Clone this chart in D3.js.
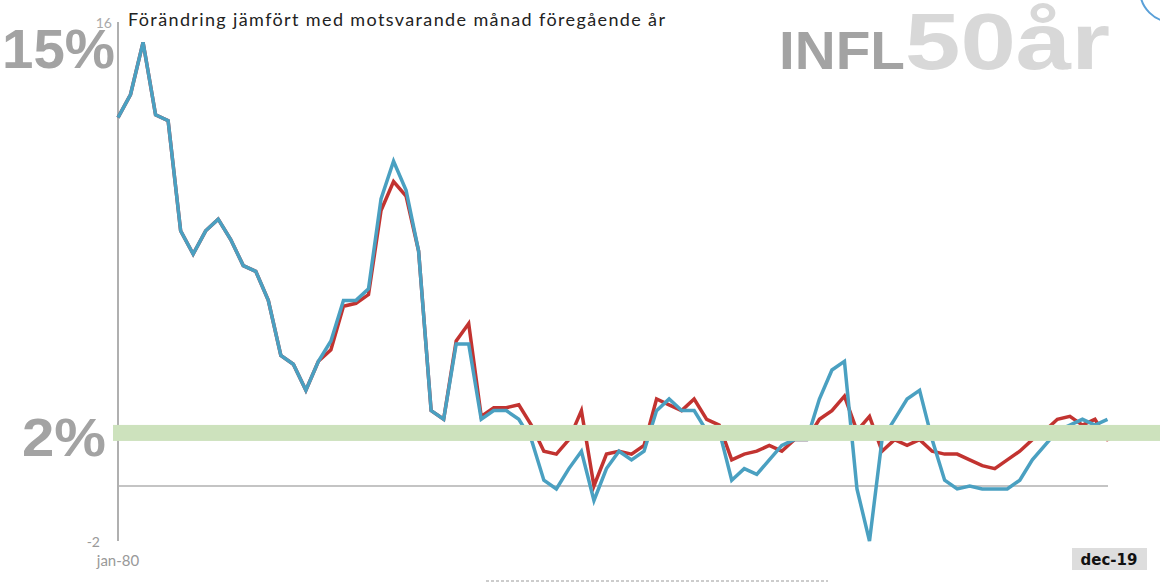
<!DOCTYPE html>
<html><head><meta charset="utf-8">
<script src="https://cdn.jsdelivr.net/npm/d3@7"></script>
<style>body{margin:0;background:#fff}</style>
</head><body>
<svg id="chart" width="1160" height="584"></svg>
<script>
// half-year points, jan-80 .. dec-19
var years = [];
for (var i = 0; i <= 80; i++) years.push(1980 + i * 0.5);

var blue = [12.7,13.5,15.3,12.8,12.6,8.8,8.0,8.8,9.2,8.5,7.6,7.4,6.4,4.5,4.2,3.3,4.3,5.0,6.4,6.4,
  6.8,9.9,11.2,10.2,8.1,2.6,2.3,4.9,4.9,2.3,2.6,2.6,2.3,1.6,0.2,-0.1,0.6,1.2,-0.5,0.6,
  1.2,0.9,1.2,2.6,3.0,2.6,2.6,1.9,1.9,0.2,0.6,0.4,0.9,1.4,1.6,1.6,3.0,4.0,4.3,-0.1,
  -1.9,1.6,2.3,3.0,3.3,1.6,0.2,-0.1,0.0,-0.1,-0.1,-0.1,0.2,0.9,1.4,1.9,2.1,2.3,2.1,2.3,null];
var red = [12.7,13.5,15.3,12.8,12.6,8.8,8.0,8.8,9.2,8.5,7.6,7.4,6.4,4.5,4.2,3.3,4.3,4.7,6.2,6.3,
  6.6,9.5,10.5,10.0,8.1,2.6,2.3,5.0,5.6,2.4,2.7,2.7,2.8,2.1,1.2,1.1,1.6,2.6,0.0,1.1,
  1.2,1.1,1.4,3.0,2.8,2.6,3.0,2.3,2.1,0.9,1.1,1.2,1.4,1.2,1.6,1.6,2.3,2.6,3.1,1.9,
  2.4,1.2,1.6,1.4,1.6,1.2,1.1,1.1,0.9,0.7,0.6,0.9,1.2,1.6,1.9,2.3,2.4,2.1,2.3,1.6,1.8];
var target = 1.83;

var svg = d3.select("#chart");
var x = d3.scaleLinear().domain([1980, 2020]).range([118, 1120]);
var y = d3.scaleLinear().domain([-2, 16]).range([544, 22]);

svg.append("line").attr("x1", 118).attr("x2", 118).attr("y1", 22).attr("y2", 541)
  .attr("stroke", "#b0b0b0").attr("stroke-width", 2);
svg.append("line").attr("x1", 118).attr("x2", 1108).attr("y1", y(0)).attr("y2", y(0))
  .attr("stroke", "#b0b0b0").attr("stroke-width", 1.5);

svg.append("text").attr("x", 128).attr("y", 26).attr("font-family", "Lato, sans-serif")
  .attr("font-size", 18).attr("textLength", 537).attr("fill", "#222").text("Förändring jämfört med motsvarande månad föregående år");
svg.append("text").attr("x", 112).attr("y", 28).attr("text-anchor", "end").attr("font-family", "Lato, sans-serif")
  .attr("font-size", 14).attr("fill", "#aaa").text("16");
svg.append("text").attr("x", 100).attr("y", 547).attr("text-anchor", "end").attr("font-family", "Lato, sans-serif")
  .attr("font-size", 14).attr("fill", "#999").text("-2");
svg.append("text").attr("x", 118).attr("y", 566).attr("text-anchor", "middle").attr("font-family", "Lato, sans-serif")
  .attr("font-size", 15).attr("fill", "#999").text("jan-80");

var line = d3.line().defined(function (d) { return d != null; })
  .x(function (d, i) { return x(years[i]); }).y(function (d) { return y(d); });
svg.append("path").datum(red).attr("d", line).attr("fill", "none")
  .attr("stroke", "#c23330").attr("stroke-width", 3.5);
svg.append("path").datum(blue).attr("d", line).attr("fill", "none")
  .attr("stroke", "#4aa0c1").attr("stroke-width", 3.5);

svg.append("rect").attr("x", 113).attr("width", 1047).attr("y", y(target) - 8).attr("height", 16)
  .attr("fill", "#cde2bd");

svg.append("rect").attr("x", 1072).attr("y", 548).attr("width", 75).attr("height", 22).attr("fill", "#ddd");
svg.append("text").attr("x", 1109).attr("y", 565).attr("text-anchor", "middle").attr("font-family", "DejaVu Sans, sans-serif")
  .attr("font-weight", "bold").attr("font-size", 15).attr("fill", "#111").text("dec-19");

svg.append("line").attr("x1", 486).attr("x2", 828).attr("y1", 581).attr("y2", 581)
  .attr("stroke", "#999").attr("stroke-dasharray", "3,2");
svg.append("circle").attr("cx", 1172).attr("cy", -10).attr("r", 32).attr("fill", "none")
  .attr("stroke", "#5aa0d8").attr("stroke-width", 2);

svg.append("text").attr("x", 2).attr("y", 68).attr("font-family", "Liberation Sans, Arial, sans-serif")
  .attr("font-weight", "bold").attr("font-size", 56).attr("textLength", 113).attr("lengthAdjust", "spacingAndGlyphs")
  .attr("fill", "#a3a3a3").text("15%");
svg.append("text").attr("x", 22).attr("y", 456).attr("font-family", "Liberation Sans, Arial, sans-serif")
  .attr("font-weight", "bold").attr("font-size", 54).attr("textLength", 84).attr("lengthAdjust", "spacingAndGlyphs")
  .attr("fill", "#a3a3a3").text("2%");
svg.append("text").attr("x", 779).attr("y", 69).attr("font-family", "Liberation Sans, Arial, sans-serif")
  .attr("font-weight", "bold").attr("font-size", 54).attr("textLength", 126).attr("lengthAdjust", "spacingAndGlyphs")
  .attr("fill", "#a3a3a3").text("INFL");
svg.append("text").attr("x", 905).attr("y", 69).attr("font-family", "Liberation Sans, Arial, sans-serif")
  .attr("font-weight", "bold").attr("font-size", 80).attr("textLength", 205).attr("lengthAdjust", "spacingAndGlyphs")
  .attr("fill", "#d8d8d8").text("50år");
</script>
</body></html>
